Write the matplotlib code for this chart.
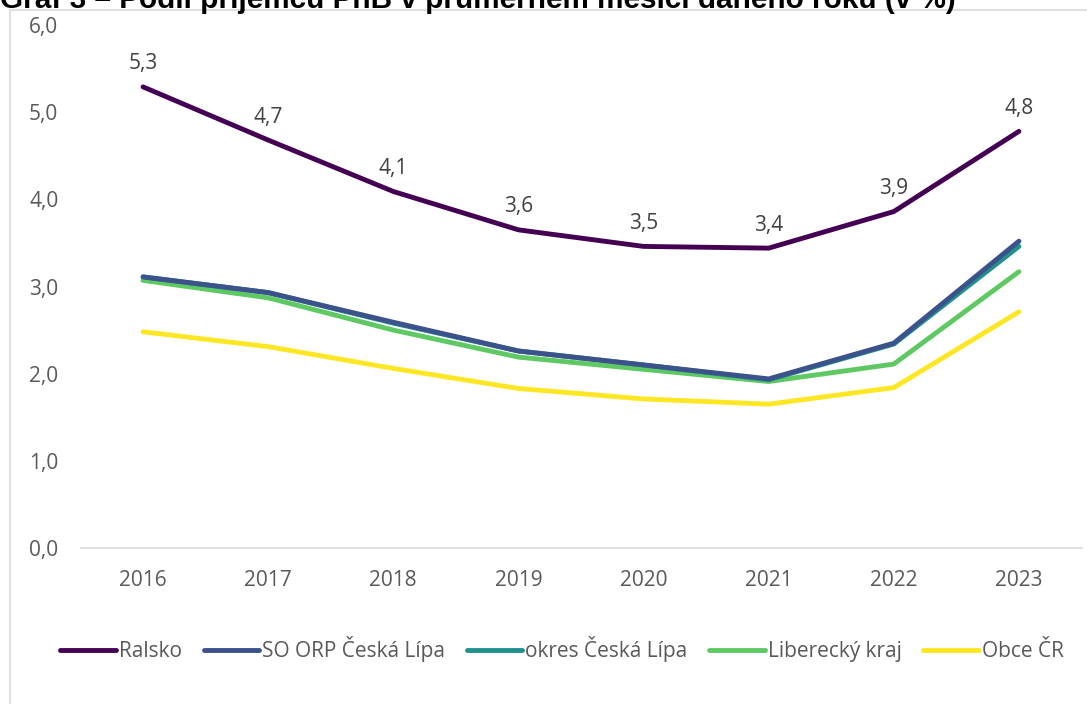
import matplotlib
matplotlib.use("Agg")
import matplotlib.pyplot as plt
from matplotlib.patches import Rectangle

years = ["2016", "2017", "2018", "2019", "2020", "2021", "2022", "2023"]
ralsko = [5.29, 4.68, 4.09, 3.65, 3.46, 3.44, 3.86, 4.78]
so_orp = [3.11, 2.93, 2.59, 2.26, 2.10, 1.94, 2.35, 3.52]
okres = [3.11, 2.93, 2.58, 2.26, 2.10, 1.93, 2.34, 3.46]
liberecky = [3.07, 2.87, 2.50, 2.19, 2.05, 1.91, 2.11, 3.17]
obce_cr = [2.48, 2.31, 2.06, 1.83, 1.71, 1.65, 1.84, 2.71]
ralsko_labels = ["5,3", "4,7", "4,1", "3,6", "3,5", "3,4", "3,9", "4,8"]
series_names = ["Ralsko", "SO ORP Česká Lípa", "okres Česká Lípa", "Liberecký kraj", "Obce ČR"]
colors = ["#440154", "#3b528b", "#21918c", "#5ec962", "#fde725"]
title = "Graf 3 – Podíl příjemců PnB v průměrném měsíci daného roku (v %)"

FS = 15
plt.rcParams['font.family'] = ['Open Sans', 'DejaVu Sans']
fig = plt.figure(figsize=(10.87, 7.04), dpi=100)
fig.patches.append(Rectangle((10/1087, -0.01), 1.1, 1 - 9.5/704 + 0.01, transform=fig.transFigure,
                             fill=False, edgecolor="#d9d9d9", linewidth=1.2))
ax = fig.add_axes([80.5/1087, 1 - 548/704, (1081.5 - 80.5)/1087, (548 - 25)/704])

x = list(range(len(years)))
data = [ralsko, so_orp, okres, liberecky, obce_cr]
order = [4, 3, 2, 1, 0]
for i in order:
    ax.plot(x, data[i], color=colors[i], linewidth=3.5, solid_capstyle="round",
            solid_joinstyle="round", label=series_names[i], zorder=3 + (5 - i))

for xi, yi, lab in zip(x, ralsko, ralsko_labels):
    ax.annotate(lab, (xi, yi), xytext=(0, 9), textcoords="offset points",
                ha="center", va="bottom", fontsize=FS, color="#404040")

ax.set_xlim(-0.5, len(years) - 0.5)
ax.set_ylim(0, 6)
ax.set_yticks([0, 1, 2, 3, 4, 5, 6])
ax.set_yticklabels(["0,0", "1,0", "2,0", "3,0", "4,0", "5,0", "6,0"])
ax.set_xticks(x)
ax.set_xticklabels(years)
ax.tick_params(axis="both", length=0, labelsize=FS, labelcolor="#595959")
ax.tick_params(axis="x", pad=16)
ax.tick_params(axis="y", pad=16)
for s in ["top", "right", "left"]:
    ax.spines[s].set_visible(False)
ax.spines["bottom"].set_color("#d9d9d9")
ax.spines["bottom"].set_linewidth(1.2)

handles, labels = ax.get_legend_handles_labels()
hmap = dict(zip(labels, handles))
fig.legend([hmap[n] for n in series_names], series_names, loc="center",
           bbox_to_anchor=(562/1087, 1 - 649/704), ncol=5, frameon=False,
           fontsize=FS, labelcolor="#595959", handlelength=2.65,
           handletextpad=0.15, columnspacing=1.05)

fig.text(0.0, 1 - 8/704, title, ha="left", va="baseline", fontsize=21.4,
         fontweight="bold", family=["Liberation Sans", "DejaVu Sans"], color="black")

fig.savefig("out.png", dpi=100)
